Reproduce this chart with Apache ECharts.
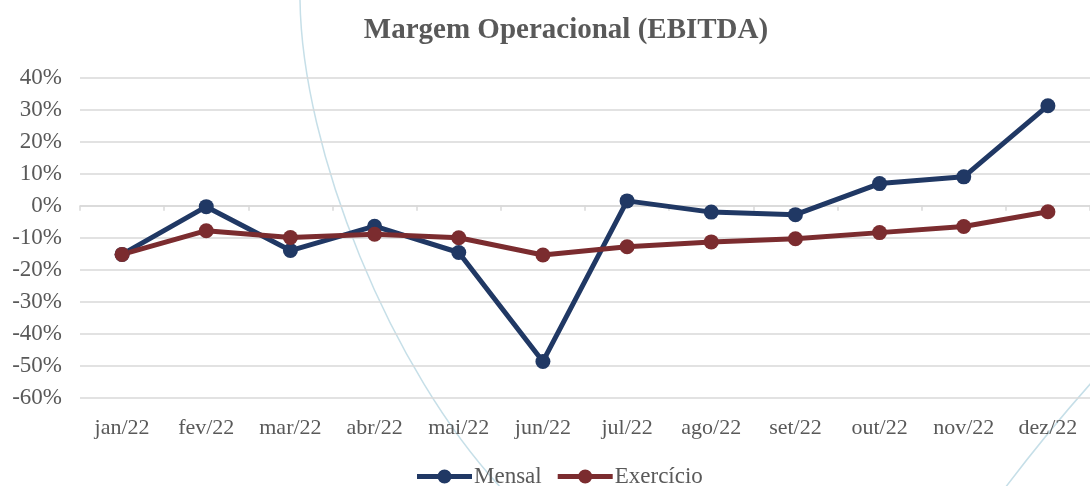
<!DOCTYPE html>
<html>
<head>
<meta charset="utf-8">
<script src="https://cdn.jsdelivr.net/npm/echarts@6/dist/echarts.min.js"></script>
<style>
html,body{margin:0;padding:0;background:#fff;}
#chart{width:1090px;height:486px;}
</style>
</head>
<body>
<div id="chart"></div>
<script>
var categories = ['jan/22','fev/22','mar/22','abr/22','mai/22','jun/22','jul/22','ago/22','set/22','out/22','nov/22','dez/22'];
var mensal = [-15.2, -0.3, -14.0, -6.4, -14.6, -48.6, 1.5, -2.0, -2.8, 6.9, 9.0, 31.2];
var exercicio = [-15.2, -7.8, -9.9, -8.9, -10.0, -15.4, -12.8, -11.3, -10.3, -8.4, -6.5, -1.9];
var yTicks = [-60, -50, -40, -30, -20, -10, 0, 10, 20, 30, 40];

var font = '"Liberation Serif", "DejaVu Serif", serif';
var txt = '#595959';
var navy = '#203864';
var wine = '#7b2c2f';
var legendIcon = 'path://M0,4.5L21,4.5L21,9.5L0,9.5Z M34,4.5L55,4.5L55,9.5L34,9.5Z M20.5,7A7,7 0 1 1 34.5,7A7,7 0 1 1 20.5,7Z';

var chart = echarts.init(document.getElementById('chart'));
chart.setOption({
  backgroundColor: '#ffffff',
  animation: false,
  title: {
    text: 'Margem Operacional (EBITDA)',
    left: 561, top: 11, textAlign: 'center',
    textStyle: {fontFamily: font, fontSize: 29, fontWeight: 'bold', color: txt}
  },
  graphic: [
    {type: 'bezierCurve', z: -10, silent: true,
     shape: {x1: 300, y1: 0, cpx1: 302, cpy1: 150, cpx2: 390, cpy2: 370, x2: 503, y2: 490},
     style: {stroke: '#c6dfe8', lineWidth: 1.5, fill: null}},
    {type: 'bezierCurve', z: -10, silent: true,
     shape: {x1: 1005, y1: 488, cpx1: 1030, cpy1: 455, cpx2: 1060, cpy2: 418, x2: 1092, y2: 382},
     style: {stroke: '#c6dfe8', lineWidth: 1.5, fill: null}}
  ],
  legend: {
    bottom: -7, left: 412,
    itemWidth: 55, itemHeight: 14, itemGap: 16,
    textStyle: {fontFamily: font, fontSize: 23, color: txt, padding: [0,0,0,-3]},
    data: [
      {name: 'Mensal', icon: legendIcon, itemStyle: {color: navy}},
      {name: 'Exercício', icon: legendIcon, itemStyle: {color: wine}}
    ]
  },
  grid: {left: 80, right: -5, top: 77.5, bottom: 88, containLabel: false},
  xAxis: [
    {type: 'category', data: categories, boundaryGap: true,
     axisLine: {onZero: true, lineStyle: {color: '#d9d9d9', width: 1.5}},
     axisTick: {show: true, length: 5, interval: 0, lineStyle: {color: '#d9d9d9', width: 1.5}},
     axisLabel: {show: false}},
    {type: 'category', data: categories, position: 'bottom', boundaryGap: true,
     axisLine: {show: false, onZero: false}, axisTick: {show: false},
     axisLabel: {interval: 0, fontFamily: font, fontSize: 22, color: txt, margin: 19}}
  ],
  yAxis: {
    type: 'value', min: -60, max: 40, interval: 10,
    axisLine: {show: false}, axisTick: {show: false},
    splitLine: {lineStyle: {color: '#d9d9d9', width: 1.5}},
    axisLabel: {fontFamily: font, fontSize: 23, color: txt, margin: 18,
      formatter: function (v) { return v + '%'; }}
  },
  series: [
    {name: 'Mensal', type: 'line', data: mensal, xAxisIndex: 0,
     symbol: 'circle', symbolSize: 15,
     lineStyle: {color: navy, width: 5},
     itemStyle: {color: navy}},
    {name: 'Exercício', type: 'line', data: exercicio, xAxisIndex: 0,
     symbol: 'circle', symbolSize: 15,
     lineStyle: {color: wine, width: 5},
     itemStyle: {color: wine}}
  ]
});
</script>
</body>
</html>
